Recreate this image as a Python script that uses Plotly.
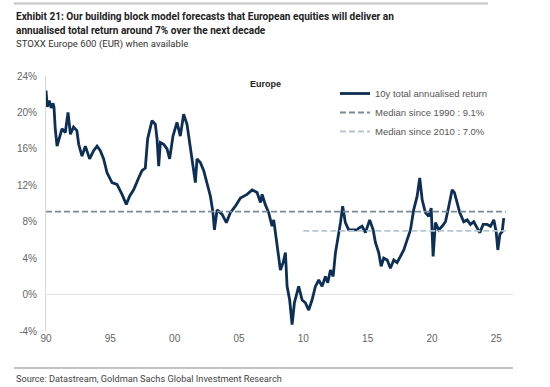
import plotly.graph_objects as go

# Decimal years and 10y total annualised return (%)
years = [1990.00, 1990.10, 1990.25, 1990.40, 1990.55, 1990.62, 1990.72, 1990.86, 1990.98,
         1991.24, 1991.50, 1991.71, 1991.90, 1992.14, 1992.40, 1992.54, 1992.80, 1993.06,
         1993.39, 1993.70, 1993.97, 1994.22, 1994.48, 1994.74, 1995.13, 1995.52, 1995.91,
         1996.24, 1996.50, 1996.81, 1997.20, 1997.46, 1997.72, 1997.90, 1998.24, 1998.50,
         1998.63, 1998.76, 1998.89, 1999.15, 1999.41, 1999.61, 1999.87, 2000.18, 2000.44,
         2000.70, 2000.96, 2001.22, 2001.61, 2001.74, 2002.00, 2002.26, 2002.52, 2002.78,
         2002.98, 2003.09, 2003.30, 2003.69, 2004.02, 2004.33, 2004.72, 2005.11, 2005.63,
         2006.02, 2006.41, 2006.67, 2006.80, 2007.04, 2007.31, 2007.57, 2007.70, 2007.91,
         2008.09, 2008.22, 2008.43, 2008.61, 2008.74, 2008.94, 2009.13, 2009.31, 2009.64,
         2009.91, 2010.16, 2010.42, 2010.68, 2010.94, 2011.20, 2011.46, 2011.72, 2011.90,
         2012.11, 2012.32, 2012.50, 2012.68, 2012.89, 2013.06, 2013.27, 2013.53, 2013.92,
         2014.18, 2014.31, 2014.57, 2014.83, 2015.16, 2015.43, 2015.61, 2015.86, 2016.05,
         2016.25, 2016.52, 2016.77, 2017.03, 2017.29, 2017.55, 2017.81, 2018.07, 2018.33,
         2018.58, 2018.85, 2019.05, 2019.24, 2019.49, 2019.75, 2019.94, 2020.09, 2020.27,
         2020.53, 2020.79, 2021.05, 2021.31, 2021.57, 2021.75, 2021.96, 2022.16, 2022.47,
         2022.74, 2022.99, 2023.25, 2023.52, 2023.72, 2023.98, 2024.29, 2024.55, 2024.81,
         2024.99, 2025.12, 2025.28, 2025.46, 2025.58]
returns = [22.4, 20.6, 21.3, 20.5, 21.0, 20.6, 18.2, 16.3, 16.9,
           18.2, 17.8, 20.0, 17.6, 18.4, 18.0, 16.5, 15.2, 16.3,
           14.9, 15.8, 16.3, 15.8, 14.9, 13.4, 12.3, 12.1, 11.0,
           9.9, 10.8, 11.5, 12.8, 13.6, 13.9, 17.1, 19.1, 18.7,
           17.1, 14.1, 16.7, 16.5, 16.0, 14.9, 17.4, 18.9, 17.4,
           19.8, 18.7, 16.0, 12.3, 14.9, 14.5, 13.6, 12.3, 10.8,
           9.0, 7.1, 9.3, 8.8, 7.9, 9.0, 9.7, 10.6, 11.0,
           11.5, 11.2, 10.1, 11.0, 9.9, 9.0, 7.5, 8.2, 6.0,
           4.2, 2.7, 3.5, 4.6, 0.9, -0.6, -3.3, -0.9, 0.9,
           -0.6, -0.9, -1.7, -0.6, 0.9, 1.6, 0.9, 2.0, 1.3,
           2.7, 2.0, 4.6, 6.0, 7.9, 9.7, 7.9, 7.1, 7.1,
           7.1, 7.3, 7.5, 6.8, 8.2, 7.1, 5.7, 4.6, 3.1,
           4.0, 3.8, 2.9, 3.8, 3.5, 4.2, 4.9, 6.0, 7.1,
           9.3, 10.8, 12.8, 10.4, 9.0, 8.6, 9.5, 4.2, 7.9,
           7.1, 7.5, 8.0, 9.7, 11.5, 11.2, 10.1, 9.0, 8.0,
           8.2, 7.7, 8.0, 7.3, 6.8, 7.7, 7.7, 7.5, 8.2,
           6.9, 4.9, 6.6, 6.9, 8.4]

median_1990 = 9.1
median_2010 = 7.0
median_1990_span = [1990.0, 2025.75]
median_2010_span = [2010.0, 2025.75]

y_ticks = [-4, 0, 4, 8, 12, 16, 20, 24]
y_tick_text = ["-4%", "0%", "4%", "8%", "12%", "16%", "20%", "24%"]
x_tick_vals = [1990, 1995, 2000, 2005, 2010, 2015, 2020, 2025]
x_tick_text = ["90", "95", "00", "05", "10", "15", "20", "25"]

fig = go.Figure()
fig.add_trace(go.Scatter(x=years, y=returns, mode="lines", name="10y total annualised return",
                         line=dict(color="#0d2f55", width=2.8)))
fig.add_trace(go.Scatter(x=median_1990_span, y=[median_1990] * 2, mode="lines",
                         name="Median since 1990 : 9.1%",
                         line=dict(color="#7a8a98", width=1.8, dash="6px,3px")))
fig.add_trace(go.Scatter(x=median_2010_span, y=[median_2010] * 2, mode="lines",
                         name="Median since 2010 : 7.0%",
                         line=dict(color="#b4c6d2", width=1.8, dash="6px,3px")))

L, R, T, B = 46, 37, 76, 56
W, H = 550, 387
pw, ph = W - L - R, H - T - B

def px(x):
    return (x - L) / pw

def py(y):
    return (H - B - y) / ph

fig.update_layout(
    width=W, height=H,
    margin=dict(l=L, r=R, t=T, b=B),
    plot_bgcolor="white", paper_bgcolor="white",
    font=dict(family="Liberation Sans, Arial, sans-serif", color="#555", size=10),
    showlegend=True,
    legend=dict(x=px(335), y=py(79), xanchor="left", yanchor="top",
                font=dict(size=9.5, color="#555"), bgcolor="rgba(0,0,0,0)",
                itemwidth=30, tracegroupgap=0),
    xaxis=dict(range=[1990, 2026.3], tickvals=x_tick_vals, ticktext=x_tick_text,
               showgrid=False, zeroline=False, showline=False, ticks="",
               tickfont=dict(size=10, color="#666")),
    yaxis=dict(range=[-4, 24], tickvals=y_ticks, ticktext=y_tick_text,
               showgrid=False, zeroline=True, zerolinecolor="#e3e3e3", zerolinewidth=1,
               showline=True, linecolor="#d8d8d8", linewidth=1, ticks="",
               ticklabelstandoff=6, tickfont=dict(size=10, color="#666")),
    shapes=[
        dict(type="line", xref="paper", yref="paper", x0=px(14), x1=px(488), y0=py(3.5), y1=py(3.5),
             line=dict(color="#c4c4c4", width=2)),
        dict(type="line", xref="paper", yref="paper", x0=px(14), x1=px(513), y0=py(368), y1=py(368),
             line=dict(color="#c4c4c4", width=2)),
    ],
    annotations=[
        dict(xref="paper", yref="paper", x=px(14), y=py(17), xanchor="left", yanchor="middle",
             showarrow=False, align="left",
             text="<b>Exhibit 21: Our building block model forecasts that European equities will deliver an</b>",
             font=dict(family="Roboto, sans-serif", size=10.1, color="#222")),
        dict(xref="paper", yref="paper", x=px(14), y=py(31), xanchor="left", yanchor="middle",
             showarrow=False, align="left",
             text="<b>annualised total return around 7% over the next decade</b>",
             font=dict(family="Roboto, sans-serif", size=10.1, color="#222")),
        dict(xref="paper", yref="paper", x=px(14), y=py(44), xanchor="left", yanchor="middle",
             showarrow=False, align="left",
             text="STOXX Europe 600 (EUR) when available",
             font=dict(family="Roboto, sans-serif", size=9.6, color="#333")),
        dict(xref="paper", yref="paper", x=px(248), y=py(84), xanchor="left", yanchor="middle",
             showarrow=False, text="<b>Europe</b>",
             font=dict(family="Liberation Sans, Arial, sans-serif", size=9, color="#222")),
        dict(xref="paper", yref="paper", x=px(14), y=py(378), xanchor="left", yanchor="middle",
             showarrow=False, align="left",
             text="Source: Datastream, Goldman Sachs Global Investment Research",
             font=dict(family="Roboto, sans-serif", size=9.2, color="#444")),
    ],
)

fig.write_html("out.html", config={"displayModeBar": False},
               post_script="document.body.style.margin='0';")
